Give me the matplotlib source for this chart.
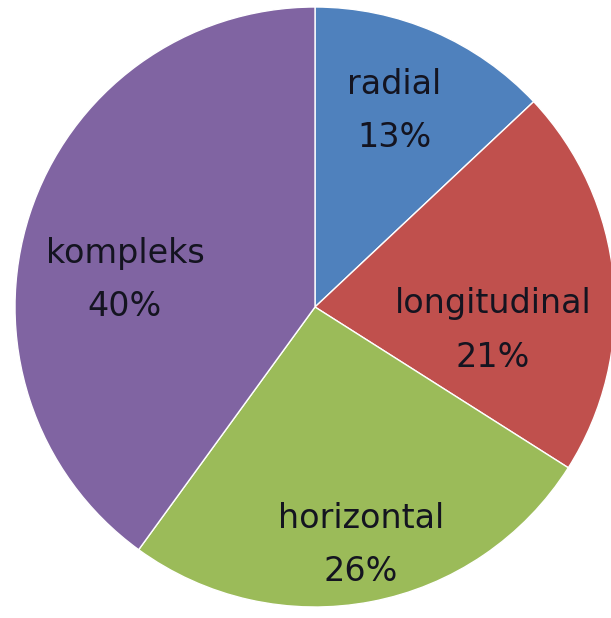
import numpy as np
import matplotlib.pyplot as plt

# data
categories = ["radial", "longitudinal", "horizontal", "kompleks"]
shares = [13, 21, 26, 40]
colors = ["#4F81BD", "#C0504D", "#9BBB59", "#8064A2"]

# label spots (radius, angle in deg) picked to look like the excel layout
label_pos = [(0.705, 67.9), (0.598, -7.4), (0.808, -79.1), (0.640, 171.9)]

fig = plt.figure(figsize=(6.11, 6.18), dpi=100)
W, H = 611, 618
cx, cy, r = 315, 307, 300
ax = fig.add_axes([(cx - r) / W, (H - cy - r) / H, 2 * r / W, 2 * r / H])

wedges, _ = ax.pie(shares, colors=colors, startangle=90, counterclock=False,
                   radius=1, wedgeprops=dict(edgecolor="white", linewidth=1.0))

for name, val, (rr, ang) in zip(categories, shares, label_pos):
    a = np.deg2rad(ang)
    ax.text(rr * np.cos(a), rr * np.sin(a), "%s\n%d%%" % (name, val),
            ha="center", va="center", fontsize=24, color="#141420",
            linespacing=1.8, family="DejaVu Sans")

ax.set_xlim(-1, 1)
ax.set_ylim(-1, 1)
ax.set_aspect("equal")
ax.axis("off")

fig.savefig("out.png", dpi=100)
